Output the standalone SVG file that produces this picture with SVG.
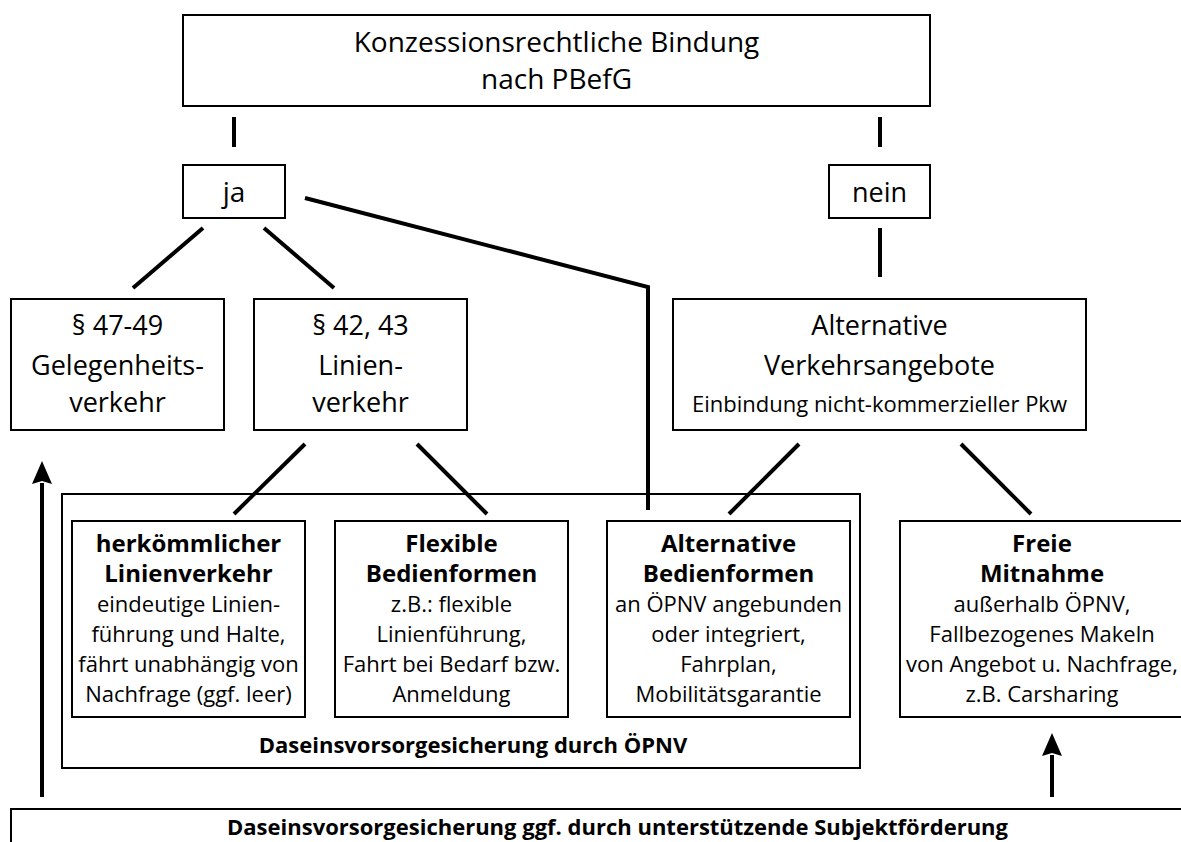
<svg xmlns="http://www.w3.org/2000/svg" width="1181" height="842" viewBox="0 0 1181 842">
<style>
  .box { fill: #fff; stroke: #000; stroke-width: 2; }
  .ln { fill: none; stroke: #000; stroke-width: 4; }
  text { font-family: "Open Sans", "Noto Sans", "DejaVu Sans", sans-serif; fill: #000; text-anchor: middle; }
  .t28 { font-size: 28px; }
  .t27 { font-size: 27px; }
  .t22 { font-size: 22px; }
  .b24 { font-size: 24px; font-weight: bold; }
  .b22 { font-size: 22px; font-weight: bold; }
</style>
<defs>
  <marker id="arrow" markerUnits="userSpaceOnUse" markerWidth="24" markerHeight="22" refX="1" refY="11" orient="auto">
    <path d="M0,1 L23,11 L0,21 L3,11 z" fill="#000"/>
  </marker>
</defs>
<rect width="1181" height="842" fill="#fff"/>

<g id="node-konzession">
  <rect class="box" x="183" y="15" width="747" height="91"/>
  <text class="t28" x="556.5" y="52">Konzessionsrechtliche Bindung</text>
  <text class="t28" x="556.5" y="89">nach PBefG</text>
</g>

<g id="node-ja">
  <rect class="box" x="183" y="165" width="102" height="53"/>
  <text class="t28" x="234" y="202">ja</text>
</g>

<g id="node-nein">
  <rect class="box" x="829" y="165" width="101" height="53"/>
  <text class="t27" x="879.5" y="202">nein</text>
</g>

<g id="node-gelegenheit">
  <rect class="box" x="11" y="299" width="213" height="131"/>
  <text class="t27" x="117.5" y="335">§ 47-49</text>
  <text class="t27" x="117.5" y="375">Gelegenheits-</text>
  <text class="t27" x="117.5" y="412">verkehr</text>
</g>

<g id="node-linienverkehr">
  <rect class="box" x="254" y="299" width="213" height="131"/>
  <text class="t27" x="360.5" y="335">§ 42, 43</text>
  <text class="t27" x="360.5" y="375">Linien-</text>
  <text class="t27" x="360.5" y="412">verkehr</text>
</g>

<g id="node-alt-verkehr">
  <rect class="box" x="673" y="299" width="413" height="131"/>
  <text class="t27" x="879.5" y="335">Alternative</text>
  <text class="t27" x="879.5" y="375">Verkehrsangebote</text>
  <text class="t22" x="879.5" y="412">Einbindung nicht-kommerzieller Pkw</text>
</g>

<g id="node-oepnv">
  <rect class="box" x="62" y="494" width="798" height="274"/>
  <text class="b22" x="473" y="753">Daseinsvorsorgesicherung durch ÖPNV</text>
</g>

<g id="node-herkoemmlich">
  <rect class="box" x="72" y="521" width="233" height="196"/>
  <text class="b24" x="188.5" y="552">herkömmlicher</text>
  <text class="b24" x="188.5" y="582">Linienverkehr</text>
  <text class="t22" x="188.5" y="612">eindeutige Linien-</text>
  <text class="t22" x="188.5" y="642">führung und Halte,</text>
  <text class="t22" x="188.5" y="672">fährt unabhängig von</text>
  <text class="t22" x="188.5" y="702">Nachfrage (ggf. leer)</text>
</g>

<g id="node-flexibel">
  <rect class="box" x="335" y="521" width="233" height="196"/>
  <text class="b24" x="451.5" y="552">Flexible</text>
  <text class="b24" x="451.5" y="582">Bedienformen</text>
  <text class="t22" x="451.5" y="612">z.B.: flexible</text>
  <text class="t22" x="451.5" y="642">Linienführung,</text>
  <text class="t22" x="451.5" y="672">Fahrt bei Bedarf bzw.</text>
  <text class="t22" x="451.5" y="702">Anmeldung</text>
</g>

<g id="node-alt-bedien">
  <rect class="box" x="607" y="521" width="243" height="196"/>
  <text class="b24" x="728.5" y="552">Alternative</text>
  <text class="b24" x="728.5" y="582">Bedienformen</text>
  <text class="t22" x="728.5" y="612">an ÖPNV angebunden</text>
  <text class="t22" x="728.5" y="642">oder integriert,</text>
  <text class="t22" x="728.5" y="672">Fahrplan,</text>
  <text class="t22" x="728.5" y="702">Mobilitätsgarantie</text>
</g>

<g id="node-freie">
  <rect class="box" x="900" y="521" width="284" height="196"/>
  <text class="b24" x="1042" y="552">Freie</text>
  <text class="b24" x="1042" y="582">Mitnahme</text>
  <text class="t22" x="1042" y="612">außerhalb ÖPNV,</text>
  <text class="t22" x="1042" y="642">Fallbezogenes Makeln</text>
  <text class="t22" x="1042" y="672">von Angebot u. Nachfrage,</text>
  <text class="t22" x="1042" y="702">z.B. Carsharing</text>
</g>

<g id="node-subjekt">
  <rect class="box" x="11" y="809" width="1200" height="60"/>
  <text class="b22" x="617.5" y="835">Daseinsvorsorgesicherung ggf. durch unterstützende Subjektförderung</text>
</g>

<g id="connectors">
  <line class="ln" x1="234" y1="117" x2="234" y2="147"/>
  <line class="ln" x1="880" y1="117" x2="880" y2="147"/>
  <line class="ln" x1="880" y1="228" x2="880" y2="277"/>
  <line class="ln" x1="203" y1="228" x2="133" y2="288"/>
  <line class="ln" x1="264" y1="228" x2="334" y2="288"/>
  <polyline class="ln" points="305,198 648,287 648,510"/>
  <line class="ln" x1="305" y1="444" x2="234" y2="514"/>
  <line class="ln" x1="417" y1="444" x2="487" y2="514"/>
  <line class="ln" x1="799" y1="444" x2="729" y2="514"/>
  <line class="ln" x1="961" y1="444" x2="1031" y2="514"/>
  <line class="ln" x1="42" y1="797" x2="42" y2="483" marker-end="url(#arrow)"/>
  <line class="ln" x1="1052" y1="797" x2="1052" y2="755" marker-end="url(#arrow)"/>
</g>
</svg>
